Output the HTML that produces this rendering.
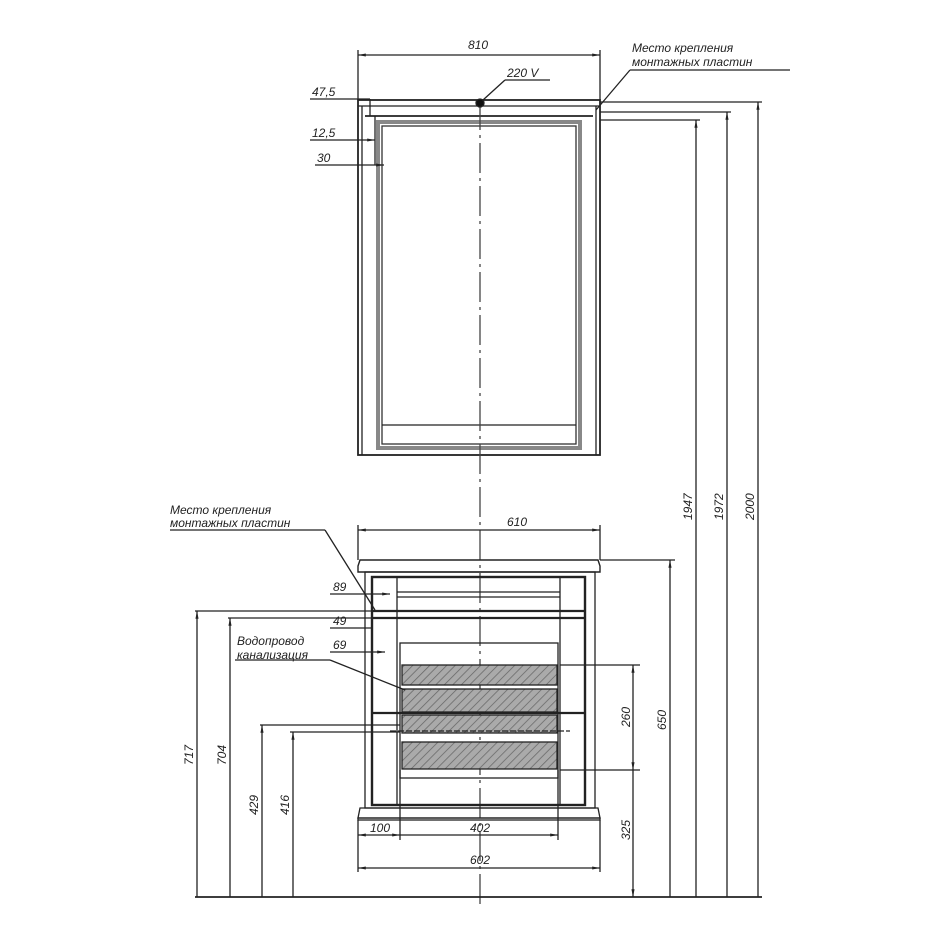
<!DOCTYPE html>
<html><head><meta charset="utf-8"><style>
html,body{margin:0;padding:0;background:#fff}
svg{display:block}
text{font-family:"Liberation Sans",sans-serif;font-style:italic;font-size:12px;fill:#222}
</style></head><body>
<svg width="950" height="950" viewBox="0 0 950 950" xmlns="http://www.w3.org/2000/svg">
<defs>
<pattern id="h" width="6" height="6" patternUnits="userSpaceOnUse" patternTransform="rotate(45)">
<rect width="6" height="6" fill="#aaa"/><line x1="0" y1="0" x2="0" y2="6" stroke="#666" stroke-width="1.5"/></pattern>
<marker id="a" viewBox="0 0 10 10" refX="10" refY="5" markerWidth="6" markerHeight="6" orient="auto-start-reverse"><path d="M0,3L10,5L0,7z" fill="#222"/></marker>
</defs>
<g stroke="#222" fill="none" stroke-width="1.3">
<rect x="358" y="100" width="242" height="355" stroke-width="1.8"/>
<line x1="358" y1="106" x2="600" y2="106"/>
<line x1="365" y1="116" x2="593" y2="116" stroke-width="1.8"/>
<rect x="378" y="122" width="202" height="326" stroke="#888" stroke-width="4"/>
<rect x="382" y="126" width="194" height="318" stroke="#333"/>
<line x1="382" y1="425" x2="576" y2="425"/>
<line x1="362" y1="106" x2="362" y2="455"/>
<line x1="596" y1="106" x2="596" y2="455"/>
<line x1="480" y1="100" x2="480" y2="905" stroke-dasharray="30,5,3,5" stroke="#444"/>
<circle cx="480" cy="103" r="4" fill="#111"/>
<line x1="483" y1="100" x2="505" y2="80"/><line x1="505" y1="80" x2="550" y2="80"/>
<line x1="358" y1="55" x2="600" y2="55" marker-start="url(#a)" marker-end="url(#a)"/>
<line x1="358" y1="50" x2="358" y2="100"/><line x1="600" y1="50" x2="600" y2="100"/>
<line x1="310" y1="99" x2="370" y2="99"/><line x1="370" y1="99" x2="370" y2="116"/>
<line x1="310" y1="140" x2="375" y2="140" marker-end="url(#a)"/><line x1="375" y1="116" x2="375" y2="165"/>
<line x1="315" y1="165" x2="384" y2="165" marker-end="url(#a)"/>
<line x1="630" y1="70" x2="790" y2="70"/><line x1="630" y1="70" x2="596" y2="110"/>
<line x1="600" y1="102" x2="762" y2="102"/><line x1="600" y1="112" x2="731" y2="112"/><line x1="600" y1="120" x2="700" y2="120"/>
<line x1="758" y1="102" x2="758" y2="897" marker-start="url(#a)"/>
<line x1="727" y1="112" x2="727" y2="897" marker-start="url(#a)"/>
<line x1="696" y1="120" x2="696" y2="897" marker-start="url(#a)"/>
<line x1="600" y1="560" x2="675" y2="560"/><line x1="670" y1="560" x2="670" y2="897" marker-start="url(#a)"/>
<line x1="560" y1="665" x2="640" y2="665"/><line x1="560" y1="770" x2="640" y2="770"/>
<line x1="633" y1="665" x2="633" y2="770" marker-start="url(#a)" marker-end="url(#a)"/>
<line x1="633" y1="770" x2="633" y2="897" marker-end="url(#a)"/>
<line x1="195" y1="897" x2="762" y2="897" stroke-width="1.8"/>
<line x1="358" y1="530" x2="600" y2="530" marker-start="url(#a)" marker-end="url(#a)"/>
<line x1="358" y1="525" x2="358" y2="560"/><line x1="600" y1="525" x2="600" y2="560"/>
<path d="M360,560 L598,560 L600,566 L600,572 L358,572 L358,566 Z" stroke-width="1.4"/>
<rect x="365" y="572" width="230" height="236"/>
<rect x="372" y="577" width="213" height="228" stroke-width="2.4"/>
<line x1="397" y1="577" x2="397" y2="805"/><line x1="560" y1="577" x2="560" y2="805"/>
<line x1="397" y1="592" x2="560" y2="592"/><line x1="397" y1="597" x2="560" y2="597"/>
<line x1="372" y1="611" x2="585" y2="611" stroke-width="2.2"/>
<line x1="372" y1="618" x2="585" y2="618" stroke-width="2.2"/>
<rect x="400" y="643" width="158" height="135"/>
<rect x="402" y="665" width="155" height="20" fill="url(#h)"/>
<rect x="402" y="689" width="155" height="23" fill="url(#h)"/>
<rect x="402" y="715" width="155" height="18" fill="url(#h)"/>
<rect x="402" y="742" width="155" height="27" fill="url(#h)"/>
<line x1="372" y1="713" x2="585" y2="713" stroke-width="2.2"/>
<line x1="390" y1="731" x2="570" y2="731" stroke-dasharray="6,2"/>
<path d="M360,808 L598,808 L600,818 L358,818 Z"/>
<rect x="358" y="818" width="242" height="2"/>
<line x1="358" y1="835" x2="400" y2="835" marker-start="url(#a)" marker-end="url(#a)"/>
<line x1="400" y1="835" x2="558" y2="835" marker-end="url(#a)"/>
<line x1="400" y1="770" x2="400" y2="840"/><line x1="558" y1="770" x2="558" y2="840"/>
<line x1="358" y1="868" x2="600" y2="868" marker-start="url(#a)" marker-end="url(#a)"/>
<line x1="358" y1="820" x2="358" y2="872"/><line x1="600" y1="820" x2="600" y2="872"/>
<line x1="195" y1="611" x2="372" y2="611"/><line x1="197" y1="611" x2="197" y2="897" marker-start="url(#a)"/>
<line x1="228" y1="618" x2="372" y2="618"/><line x1="230" y1="618" x2="230" y2="897" marker-start="url(#a)"/>
<line x1="260" y1="725" x2="400" y2="725"/><line x1="262" y1="725" x2="262" y2="897" marker-start="url(#a)"/>
<line x1="290" y1="732" x2="400" y2="732"/><line x1="293" y1="732" x2="293" y2="897" marker-start="url(#a)"/>
<line x1="330" y1="594" x2="390" y2="594" marker-end="url(#a)"/>
<line x1="330" y1="628" x2="372" y2="628"/>
<line x1="330" y1="652" x2="385" y2="652" marker-end="url(#a)"/>
<line x1="170" y1="530" x2="325" y2="530"/><line x1="325" y1="530" x2="375" y2="610"/>
<line x1="235" y1="660" x2="330" y2="660"/><line x1="330" y1="660" x2="405" y2="690"/>
</g>
<text x="468" y="49">810</text>
<text x="507" y="77" font-size="13">220 V</text>
<text x="632" y="52">Место крепления</text>
<text x="632" y="66">монтажных пластин</text>
<text x="312" y="96">47,5</text>
<text x="312" y="137">12,5</text>
<text x="317" y="162">30</text>
<text x="170" y="514">Место крепления</text>
<text x="170" y="527">монтажных пластин</text>
<text x="507" y="526">610</text>
<text x="333" y="591">89</text>
<text x="333" y="625">49</text>
<text x="333" y="649">69</text>
<text x="237" y="645">Водопровод</text>
<text x="237" y="659">канализация</text>
<text x="370" y="832">100</text>
<text x="470" y="832">402</text>
<text x="470" y="864">602</text>
<g>
<text transform="translate(193,765) rotate(-90)">717</text>
<text transform="translate(226,765) rotate(-90)">704</text>
<text transform="translate(258,815) rotate(-90)">429</text>
<text transform="translate(289,815) rotate(-90)">416</text>
<text transform="translate(630,727) rotate(-90)">260</text>
<text transform="translate(630,840) rotate(-90)">325</text>
<text transform="translate(666,730) rotate(-90)">650</text>
<text transform="translate(692,520) rotate(-90)">1947</text>
<text transform="translate(723,520) rotate(-90)">1972</text>
<text transform="translate(754,520) rotate(-90)">2000</text>
</g>
</svg>
</body></html>
